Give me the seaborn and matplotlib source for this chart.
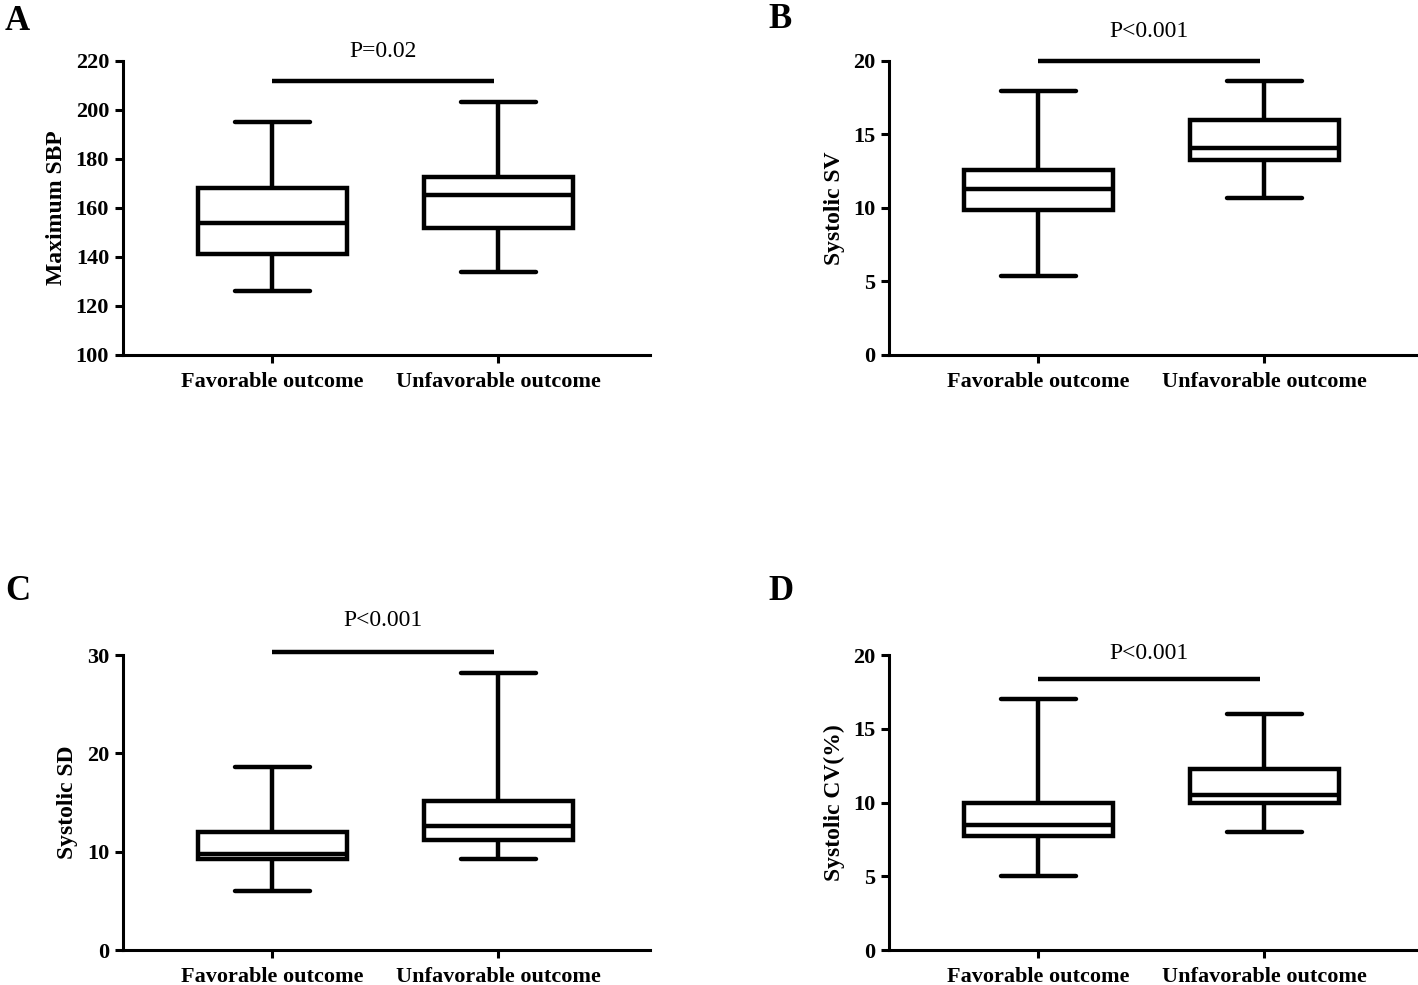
import pandas as pd
import matplotlib
matplotlib.use("Agg")
import matplotlib.pyplot as plt
import seaborn as sns

# five-number summaries: min, Q1, median, Q3, max
groups = ["Favorable outcome", "Unfavorable outcome"]

sbp_fav = [126.1, 141.1, 153.7, 168.0, 195.2]
sbp_unfav = [134.0, 152.0, 165.3, 172.8, 203.4]

sv_fav = [5.39, 9.85, 11.27, 12.58, 17.93]
sv_unfav = [10.67, 13.24, 14.09, 16.0, 18.65]

sd_fav = [5.98, 9.28, 9.79, 12.0, 18.62]
sd_unfav = [9.24, 11.2, 12.6, 15.2, 28.2]

cv_fav = [5.02, 7.73, 8.47, 10.0, 17.0]
cv_unfav = [7.98, 9.94, 10.5, 12.25, 16.0]

panel_letters = ["A", "B", "C", "D"]
ylabels = ["Maximum SBP", "Systolic SV", "Systolic SD", "Systolic CV(%)"]
ylims = [(100, 220), (0, 20), (0, 30), (0, 20)]
yticks = [list(range(100, 221, 20)), [0, 5, 10, 15, 20], [0, 10, 20, 30], [0, 5, 10, 15, 20]]
p_texts = ["P=0.02", "P<0.001", "P<0.001", "P<0.001"]
bar_heights = [212, 20.0, 30.3, 18.4]
text_heights = [219.6, 21.3, 32.4, 19.4]

panels = [(sbp_fav, sbp_unfav), (sv_fav, sv_unfav), (sd_fav, sd_unfav), (cv_fav, cv_unfav)]

sns.set_style("ticks")
plt.rcParams["font.family"] = ["Liberation Serif", "DejaVu Serif"]
plt.rcParams["axes.linewidth"] = 2.2
for key in ["text.color", "axes.labelcolor", "xtick.color", "ytick.color", "axes.edgecolor"]:
    plt.rcParams[key] = "black"

fig = plt.figure(figsize=(14.18, 9.85), dpi=100)

# axes rectangles in figure fractions (left, bottom, width, height)
rects = [
    (0.0867, 0.6396, 0.3717, 0.2985),
    (0.6270, 0.6396, 0.3715, 0.2985),
    (0.0867, 0.0355, 0.3717, 0.2995),
    (0.6270, 0.0355, 0.3715, 0.2995),
]
letter_pos = [(0.0035, 0.9695), (0.5416, 0.9716), (0.0035, 0.391), (0.5416, 0.391)]

for i, (fav, unfav) in enumerate(panels):
    ax = fig.add_axes(rects[i])
    df = pd.DataFrame({
        "group": [groups[0]] * len(fav) + [groups[1]] * len(unfav),
        "value": fav + unfav,
    })
    sns.boxplot(data=df, x="group", y="value", order=groups, whis=(0, 100),
                width=0.66, color="white", linecolor="black", linewidth=3.2,
                ax=ax)
    ax.set_xlim(-0.66, 1.67)
    ax.set_ylim(*ylims[i])
    ax.set_yticks(yticks[i])
    ax.set_xlabel("")
    ax.set_ylabel(ylabels[i], fontsize=17, fontweight="bold", labelpad=6)
    sns.despine(ax=ax)
    ax.tick_params(axis="both", direction="out", length=6, width=2.2,
                   labelsize=16, pad=4)
    for lab in ax.get_xticklabels() + ax.get_yticklabels():
        lab.set_fontweight("bold")
    ax.tick_params(axis="x", pad=6)

    # significance bar and p-value
    ax.plot([0, 0.98], [bar_heights[i]] * 2, color="black", lw=3.2,
            clip_on=False, solid_capstyle="butt")
    ax.text(0.49, text_heights[i], p_texts[i], ha="center", va="bottom",
            fontsize=17, clip_on=False)

    fig.text(letter_pos[i][0], letter_pos[i][1], panel_letters[i],
             fontsize=25, fontweight="bold", va="baseline", ha="left")

fig.savefig("out.png", dpi=100)
